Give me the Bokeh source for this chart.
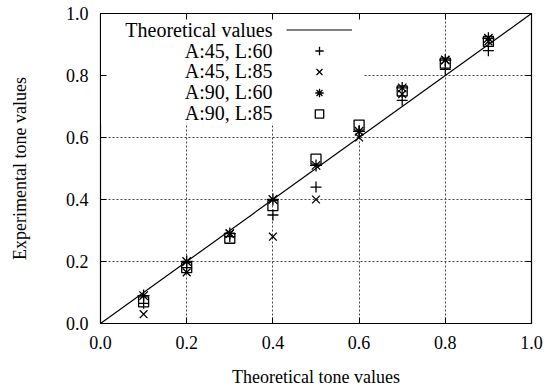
from bokeh.plotting import figure
from bokeh.models import (Range1d, FixedTicker, LinearAxis, Label, Legend, LegendItem,
                          BoxAnnotation, PrintfTickFormatter)
from bokeh.embed import file_html
from bokeh.resources import INLINE

# ---- data ----
tone_x = [0.1, 0.2, 0.3, 0.4, 0.5, 0.6, 0.7, 0.8, 0.9]
a45_l60 = [0.065, 0.18, 0.28, 0.35, 0.44, 0.62, 0.72, 0.82, 0.88]
a45_l85 = [0.03, 0.165, 0.29, 0.28, 0.40, 0.60, 0.74, 0.85, 0.91]
a90_l60 = [0.09, 0.20, 0.29, 0.40, 0.51, 0.62, 0.76, 0.85, 0.92]
a90_l85 = [0.07, 0.18, 0.275, 0.38, 0.53, 0.64, 0.75, 0.84, 0.91]
theo_x = [0.0, 1.0]
theo_y = [0.0, 1.0]
ticks = [0.0, 0.2, 0.4, 0.6, 0.8, 1.0]
legend_labels = ["Theoretical values", "A:45, L:60", "A:45, L:85", "A:90, L:60", "A:90, L:85"]

FONT = "Liberation Serif"

p = figure(width=552, height=391, output_backend="svg", toolbar_location=None,
           x_range=Range1d(0, 1), y_range=Range1d(0, 1),
           min_border_left=100, min_border_right=21, min_border_top=13, min_border_bottom=68)
p.background_fill_color = "white"
p.border_fill_color = "white"
p.outline_line_color = "black"
p.outline_line_width = 1.2

for ax in (p.xaxis[0], p.yaxis[0]):
    ax.ticker = FixedTicker(ticks=ticks)
    ax.formatter = PrintfTickFormatter(format="%.1f")
    ax.major_tick_in = 6
    ax.major_tick_out = 0
    ax.minor_tick_line_color = None
    ax.axis_line_color = "black"
    ax.major_label_text_font = FONT
    ax.major_label_text_font_size = "18px"
    ax.major_label_text_color = "black"
    ax.axis_label_text_font = FONT
    ax.axis_label_text_font_size = "18px"
    ax.axis_label_text_font_style = "normal"
    ax.axis_label_text_color = "black"

p.xaxis[0].axis_label = "Theoretical tone values"
p.yaxis[0].axis_label = "Experimental tone values"
p.xaxis[0].major_label_standoff = 12
p.yaxis[0].major_label_standoff = 12
p.xaxis[0].axis_label_standoff = 15
p.yaxis[0].axis_label_standoff = 33

for loc in ("above", "right"):
    ax = LinearAxis(ticker=FixedTicker(ticks=ticks), major_tick_in=6, major_tick_out=0,
                    minor_tick_line_color=None, axis_line_color="black",
                    major_label_overrides={t: "" for t in ticks})
    p.add_layout(ax, loc)

for g in (p.xgrid[0], p.ygrid[0]):
    g.ticker = FixedTicker(ticks=[0.2, 0.4, 0.6, 0.8])
    g.grid_line_color = "#444444"
    g.grid_line_dash = "2 2"
    g.grid_line_width = 1

# white box behind legend (hides grid lines)
p.add_layout(BoxAnnotation(left=0.0, right=0.61, bottom=0.645, top=1.0,
                           fill_color="white", fill_alpha=1.0, line_color=None,
                           level="underlay"))

r_line = p.line(theo_x, theo_y, line_color="black", line_width=1.2)
kw = dict(line_color="black", fill_color=None, line_width=1.3)
r1 = p.scatter(tone_x, a45_l60, marker="cross", size=11, **kw)
r2 = p.scatter(tone_x, a45_l85, marker="x", size=11, **kw)
r3 = p.scatter(tone_x, a90_l60, marker="asterisk", size=12, **kw)
r4 = p.scatter(tone_x, a90_l85, marker="square", size=10, **kw)

# legend keys (glyph samples only); texts are right-aligned labels to their left
legend = Legend(items=[LegendItem(label="", renderers=[r]) for r in (r_line, r1, r2, r3, r4)],
                location=(186, 199), glyph_width=66, glyph_height=21, label_height=21,
                label_width=0, label_standoff=0, spacing=0, padding=0, margin=0,
                border_line_color=None, background_fill_alpha=0.0)
p.add_layout(legend, "center")

for i, txt in enumerate(legend_labels):
    p.add_layout(Label(x=0.399, y=0.946 - i * 0.0665, text=txt, text_align="right",
                       text_baseline="middle", text_font=FONT, text_font_size="20px",
                       text_color="black"))

open("out.html", "w").write(file_html(p, INLINE))
